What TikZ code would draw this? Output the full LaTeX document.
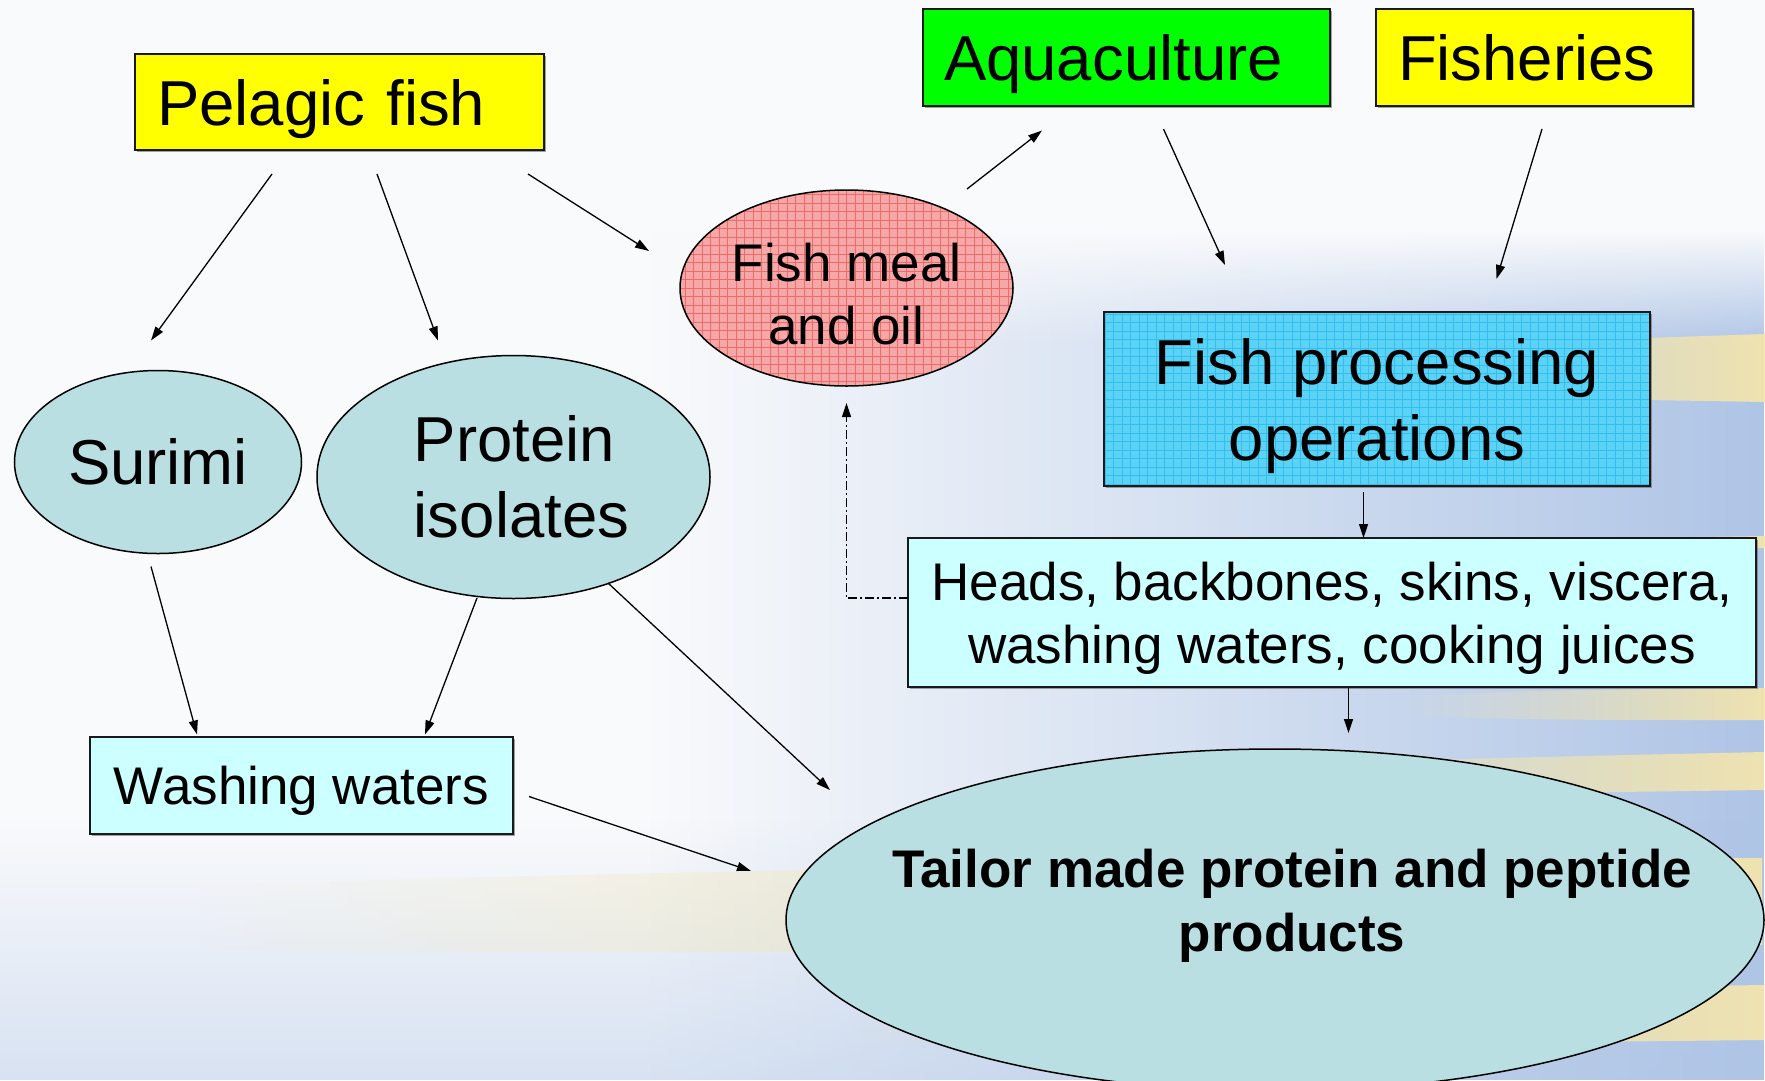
\documentclass[tikz,border=0pt]{standalone}
\usepackage{fontspec}
\setmainfont{Liberation Sans}
\usetikzlibrary{arrows.meta,shapes.geometric,calc,fadings,shadows}

\definecolor{bgbase}{HTML}{F9FAFC}
\definecolor{bgblue}{HTML}{AFC5E6}
\definecolor{bgyel}{HTML}{F6E6AA}
\definecolor{boxyel}{HTML}{FFFF00}
\definecolor{boxgreen}{HTML}{00FF00}
\definecolor{palecyan}{HTML}{CCFFFF}
\definecolor{tealc}{HTML}{B9DFE3}
\definecolor{mealc}{HTML}{F6A8A8}
\definecolor{mealgrid}{HTML}{F06A6A}
\definecolor{fpoc}{HTML}{5CD3F6}
\definecolor{fpogrid}{HTML}{30C0EE}

\tikzfading[name=fadeR, left color=transparent!100, right color=transparent!0]
\tikzfading[name=fadeD, top color=transparent!100, bottom color=transparent!0]
\tikzfading[name=fadeU, top color=transparent!0, bottom color=transparent!100]

\newcommand\bigfont{\fontsize{63.5}{76}\selectfont}
\newcommand\midfont{\fontsize{53}{63.5}\selectfont}

\begin{document}
\begin{tikzpicture}[x=1pt,y=-1pt,
  box/.style={rectangle, draw=black!90, line width=2pt, inner sep=0pt, outer sep=0pt,
    drop shadow={shadow xshift=2pt, shadow yshift=-2pt, fill=black!60, opacity=0.6}},
  ell/.style={ellipse, draw=black, line width=1.5pt, fill=tealc, inner sep=0pt, outer sep=0pt},
  txt/.style={inner sep=0pt, align=center},
  arr/.style={line width=1.3pt, -{Triangle[length=14pt,width=9pt]}},
  dashdot/.style={line width=1.2pt, dash pattern=on 9pt off 3pt on 2pt off 3pt,
    -{Triangle[length=14pt,width=9pt]}},
  gridfill/.style={path picture={\draw[#1, line width=0.7pt]
    (path picture bounding box.south west) grid[step=8.5pt]
    (path picture bounding box.north east);}}
]
\useasboundingbox (0,0) rectangle (1765,1080);
\clip (0,0) rectangle (1765,1080);

% ---------- background ----------
\fill[bgbase] (0,0) rectangle (1765,1080);
\fill[bgblue, path fading=fadeR] (650,230) rectangle (1765,1080);
\fill[bgbase] (650,0) rectangle (1765,232);
\fill[bgbase, path fading=fadeU] (650,230) rectangle (1765,345);
\fill[bgblue, path fading=fadeD, opacity=0.45] (0,820) rectangle (1765,1080);
\begin{scope}[opacity=0.9]
\fill[bgyel, path fading=fadeR] (1300,352) .. controls (1500,342) and (1650,338) .. (1765,334)
  -- (1765,402) .. controls (1650,400) and (1500,398) .. (1300,392) -- cycle;
\fill[bgyel, path fading=fadeR] (1500,540) -- (1765,536) -- (1765,548) -- (1500,550) -- cycle;
\fill[bgyel, path fading=fadeR] (1400,696) .. controls (1550,690) .. (1765,688)
  -- (1765,720) .. controls (1550,720) .. (1400,716) -- cycle;
\fill[bgyel, path fading=fadeR] (1150,772) .. controls (1400,760) .. (1765,752)
  -- (1765,790) .. controls (1400,795) .. (1150,792) -- cycle;
\fill[bgyel, path fading=fadeR] (200,885) .. controls (700,870) and (1200,862) .. (1765,858)
  -- (1765,945) .. controls (1200,950) and (700,955) .. (200,950) -- cycle;
\fill[bgyel, path fading=fadeR] (850,1000) .. controls (1300,992) .. (1765,985)
  -- (1765,1040) .. controls (1300,1045) .. (850,1042) -- cycle;
\end{scope}

% ---------- nodes ----------
\node[box, fill=boxyel, font=\bigfont, text width=365pt, inner xsep=22pt, align=left,
  minimum height=96pt, text height=46pt, text depth=0pt] (pel) at (339.5,102) {Pelagic fish};
\node[box, fill=boxgreen, font=\bigfont, text width=365pt, inner xsep=21pt, align=left,
  minimum height=97pt, text height=46pt, text depth=0pt] (aqua) at (1126.5,57.5) {Aquaculture};
\node[box, fill=boxyel, font=\bigfont, text width=273pt, inner xsep=22pt, align=left,
  minimum height=97pt, text height=46pt, text depth=0pt] (fish) at (1534.5,57.5) {Fisheries};

\node[ell, fill=mealc, gridfill=mealgrid, minimum width=333pt, minimum height=196pt]
  (fishmeal) at (846.5,288) {};
\node[txt, font=\midfont] (fishmealtext) at ($(fishmeal.center)+(0,6)$) {Fish meal\\and oil};

\node[box, fill=fpoc, gridfill=fpogrid, minimum width=546pt, minimum height=174pt]
  (fpo) at (1377,399) {};
\node[txt, font=\bigfont] (fpotext) at ($(fpo.center)+(0,7)$) {Fish processing\\operations};

\node[box, fill=palecyan, minimum width=848pt, minimum height=149pt] (heads) at (1332,612.5) {};
\node[txt, font=\midfont] (headstext) at ($(heads.center)+(0,6)$)
  {Heads, backbones, skins, viscera,\\washing waters, cooking juices};

\node[ell, font=\bigfont, minimum width=287pt, minimum height=183pt] (surimi) at (158,462) {Surimi};
\node[ell, minimum width=393pt, minimum height=243pt] (protein) at (513.5,477) {};
\node[txt, font=\bigfont, align=left] (proteintext) at ($(protein.center)+(8,0)$) {Protein\\isolates};

\node[box, fill=palecyan, font=\midfont, minimum width=423pt, minimum height=97pt,
  text height=38.5pt, text depth=0pt] (wash) at (301.5,785) {Washing waters};

\node[ell, minimum width=978pt, minimum height=342pt] (tailor) at (1275,920) {};
\node[txt, font=\midfont\bfseries] (tailortext) at (1292,906)
  {Tailor made protein and peptide\\products};

% ---------- connectors ----------
\draw[arr] ($(pel.south)+(-67.5,24)$) -- ($(surimi.north)+(-7,-30)$);
\draw[arr] ($(pel.south)+(37.5,24)$) -- ($(protein.north)+(-75.5,-15)$);
\draw[arr] ($(pel.south east)+(-16,24)$) -- ($(fishmeal.west)+(-31,-37)$);
\draw[arr] ($(fishmeal.north)+(120.5,-1)$) -- ($(aqua.south)+(-84.5,24.5)$);
\draw[arr] ($(aqua.south)+(37,23)$) -- ($(fpo.north)+(-152,-47)$);
\draw[arr] ($(fish.south)+(7.5,23)$) -- ($(fpo.north)+(119.5,-33)$);
\draw[arr] ($(fpo.south)+(-13.5,6)$) coordinate (a7) -- (a7 |- heads.north);
\draw[arr] ($(heads.south)+(16.5,1)$) coordinate (a8) -- ($(a8 |- tailor.north)+(0,-16)$);
\draw[dashdot] ($(heads.west)+(0,-14.5)$) -| ($(fishmeal.south)+(0,17)$);
\draw[arr] ($(surimi.south)+(-7,13)$) -- ($(wash.north west)+(107,-2)$);
\draw[arr] ($(protein.south)+(-36.5,-0.5)$) -- ($(wash.north east)+(-88,-2)$);
\draw[arr] ($(protein.center)+(94.5,106)$) -- ($(tailor.center)+(-445,-130)$);
\draw[arr] ($(wash.east)+(16,11.5)$) -- ($(tailor.west)+(-35,-49)$);
\end{tikzpicture}
\end{document}
